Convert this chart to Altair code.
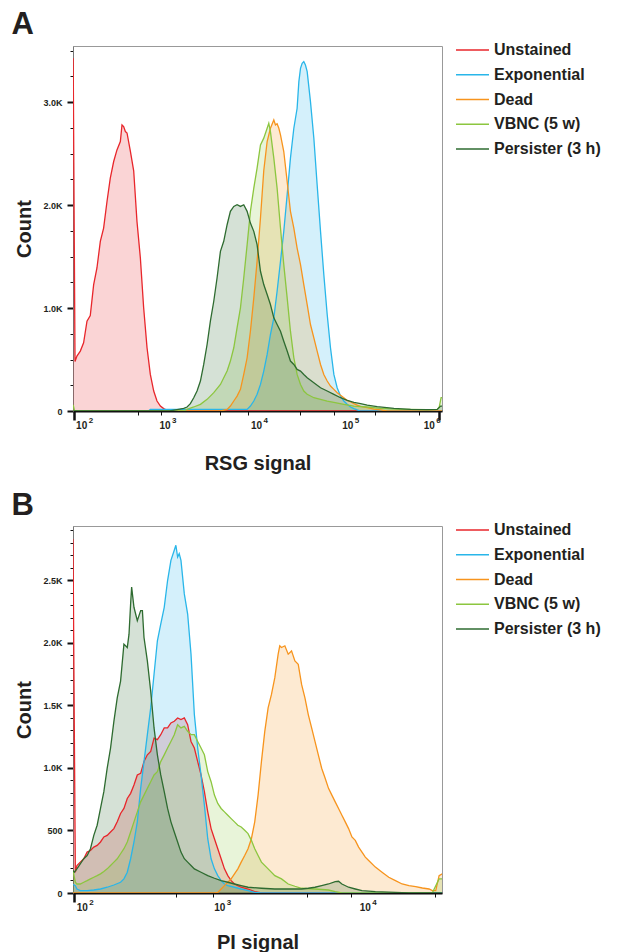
import math
import altair as alt
import pandas as pd

SERIES = ["Unstained", "Exponential", "Dead", "VBNC (5 w)", "Persister (3 h)"]
COLORS_A = ["#e8262b", "#29b6e9", "#f7941d", "#8cc63f", "#2e6b30"]
COLORS_B = ["#ec3a3f", "#29b6e9", "#f7941d", "#8cc63f", "#3c7440"]
FONT = "Liberation Sans"
INK = "#231f20"

# decade tick labels (10^n) of each panel's x axis
DECADES_A = [2, 3, 4, 5, 6]
DECADES_B = [2, 3, 4]

# ---------------- Panel A: log10(RSG signal) / Count ----------------
A_UNSTAINED_LX = [1.995, 2.015, 2.036, 2.073, 2.109, 2.146, 2.182, 2.219, 2.255, 2.292, 2.328, 2.365, 2.401, 2.438, 2.474, 2.511, 2.529, 2.547, 2.566, 2.584, 2.620, 2.657, 2.693, 2.730, 2.766, 2.803, 2.839, 2.876, 2.912, 2.949, 2.985, 3.022, 3.058, 6.03]
A_UNSTAINED_N = [3425, 480, 533, 582, 662, 872, 927, 1228, 1389, 1648, 1777, 2035, 2262, 2423, 2536, 2617, 2779, 2762, 2714, 2700, 2527, 2333, 1841, 1486, 1002, 614, 355, 194, 97, 48, 23, 6, 0, 0]

A_EXPO_LX = [1.995, 2.82, 2.839, 3.5, 3.898, 3.934, 3.971, 4.007, 4.044, 4.080, 4.117, 4.153, 4.190, 4.226, 4.263, 4.299, 4.336, 4.372, 4.409, 4.445, 4.464, 4.482, 4.500, 4.518, 4.536, 4.555, 4.591, 4.628, 4.664, 4.701, 4.737, 4.774, 4.810, 4.847, 4.883, 4.920, 4.956, 4.993, 5.029, 5.066, 5.102, 5.139, 6.03]
A_EXPO_N = [0, 0, 16, 16, 16, 48, 97, 162, 258, 388, 549, 743, 905, 1163, 1454, 1745, 2100, 2456, 2746, 2940, 3199, 3328, 3376, 3393, 3360, 3296, 3005, 2649, 2197, 1745, 1325, 937, 614, 355, 226, 145, 97, 65, 39, 23, 10, 0, 0]

A_DEAD_LX = [1.995, 3.606, 3.679, 3.715, 3.752, 3.788, 3.825, 3.861, 3.898, 3.934, 3.971, 4.007, 4.044, 4.080, 4.117, 4.153, 4.190, 4.208, 4.226, 4.245, 4.263, 4.299, 4.336, 4.372, 4.409, 4.445, 4.482, 4.518, 4.555, 4.591, 4.628, 4.664, 4.701, 4.737, 4.774, 4.810, 4.847, 4.883, 4.920, 4.956, 4.993, 5.029, 5.066, 5.102, 5.139, 5.212, 5.285, 5.358, 5.431, 6.03]
A_DEAD_N = [0, 0, 16, 48, 97, 145, 210, 355, 517, 775, 1099, 1454, 1874, 2333, 2617, 2746, 2827, 2779, 2790, 2746, 2682, 2520, 2229, 1939, 1777, 1583, 1422, 1228, 1034, 840, 711, 582, 452, 355, 291, 242, 210, 178, 152, 129, 103, 90, 71, 58, 45, 32, 19, 10, 0, 0]

A_VBNC_LX = [1.995, 2.01, 3.2, 3.241, 3.314, 3.387, 3.460, 3.533, 3.606, 3.679, 3.715, 3.752, 3.788, 3.825, 3.861, 3.898, 3.934, 3.971, 4.007, 4.044, 4.080, 4.117, 4.135, 4.153, 4.190, 4.226, 4.263, 4.299, 4.336, 4.372, 4.409, 4.445, 4.482, 4.518, 4.555, 4.628, 4.701, 4.774, 4.847, 4.956, 5.066, 5.212, 5.358, 5.504, 5.686, 5.869, 5.978, 6.0, 6.02, 6.03]
A_VBNC_N = [60, 0, 0, 16, 39, 65, 113, 178, 258, 388, 485, 614, 808, 1002, 1292, 1615, 1939, 2165, 2359, 2585, 2650, 2746, 2795, 2714, 2456, 2165, 1777, 1422, 1099, 775, 517, 355, 258, 194, 162, 129, 113, 97, 84, 65, 48, 39, 26, 19, 16, 13, 16, 40, 129, 129]

A_PERS_LX = [1.995, 3.05, 3.131, 3.204, 3.241, 3.277, 3.314, 3.350, 3.387, 3.423, 3.460, 3.496, 3.533, 3.569, 3.606, 3.642, 3.679, 3.715, 3.752, 3.788, 3.825, 3.861, 3.898, 3.934, 3.971, 4.007, 4.044, 4.080, 4.117, 4.153, 4.190, 4.226, 4.263, 4.299, 4.336, 4.372, 4.409, 4.445, 4.482, 4.518, 4.555, 4.628, 4.701, 4.774, 4.847, 4.920, 4.993, 5.066, 5.139, 5.212, 5.321, 5.504, 5.686, 5.869, 5.978, 6.015, 6.03]
A_PERS_N = [0, 0, 13, 26, 39, 71, 129, 194, 291, 452, 646, 872, 1066, 1292, 1551, 1648, 1809, 1939, 1987, 2003, 1987, 2003, 1939, 1825, 1745, 1615, 1357, 1228, 1131, 1034, 905, 840, 775, 678, 582, 485, 452, 404, 388, 355, 323, 275, 226, 194, 162, 129, 103, 84, 71, 58, 42, 26, 16, 13, 16, 48, 48]

# ---------------- Panel B: log10(PI signal) / Count ----------------
B_UNSTAINED_LX = [1.991, 2.007, 2.018, 2.041, 2.065, 2.088, 2.111, 2.134, 2.157, 2.180, 2.203, 2.226, 2.249, 2.272, 2.295, 2.318, 2.341, 2.364, 2.387, 2.410, 2.433, 2.456, 2.479, 2.502, 2.525, 2.548, 2.571, 2.594, 2.618, 2.641, 2.664, 2.687, 2.710, 2.733, 2.756, 2.779, 2.802, 2.825, 2.848, 2.871, 2.894, 2.917, 2.940, 2.963, 2.986, 3.009, 3.032, 3.055, 3.078, 3.101, 3.124, 3.147, 3.194, 3.240, 3.286, 4.53]
B_UNSTAINED_N = [2830, 166, 220, 247, 274, 327, 340, 367, 381, 408, 448, 461, 488, 515, 569, 636, 676, 756, 797, 864, 944, 957, 1051, 1105, 1132, 1239, 1226, 1266, 1320, 1320, 1360, 1373, 1400, 1387, 1400, 1346, 1212, 1159, 1051, 944, 810, 649, 515, 434, 354, 274, 193, 139, 99, 72, 59, 46, 32, 11, 0, 0]

B_EXPO_LX = [1.991, 2.007, 2.018, 2.041, 2.088, 2.134, 2.180, 2.226, 2.272, 2.318, 2.341, 2.364, 2.387, 2.410, 2.433, 2.456, 2.479, 2.502, 2.525, 2.548, 2.571, 2.594, 2.618, 2.641, 2.664, 2.687, 2.698, 2.710, 2.721, 2.733, 2.756, 2.779, 2.802, 2.825, 2.848, 2.871, 2.894, 2.917, 2.940, 2.963, 2.986, 3.009, 3.032, 3.055, 3.101, 3.147, 3.194, 3.240, 3.286, 4.53]
B_EXPO_N = [70, 59, 32, 19, 19, 24, 32, 46, 64, 86, 113, 166, 274, 408, 569, 837, 1051, 1266, 1480, 1749, 2017, 2151, 2285, 2499, 2660, 2741, 2781, 2687, 2714, 2660, 2392, 2231, 1910, 1427, 1159, 944, 703, 434, 274, 193, 139, 99, 72, 59, 46, 32, 19, 5, 0, 0]

B_DEAD_LX = [1.991, 2.96, 2.986, 3.009, 3.032, 3.055, 3.078, 3.101, 3.124, 3.147, 3.171, 3.194, 3.217, 3.240, 3.263, 3.286, 3.309, 3.332, 3.355, 3.378, 3.401, 3.412, 3.424, 3.447, 3.470, 3.493, 3.516, 3.539, 3.562, 3.585, 3.608, 3.631, 3.654, 3.677, 3.700, 3.724, 3.747, 3.770, 3.793, 3.816, 3.839, 3.862, 3.885, 3.908, 3.931, 3.954, 3.977, 4.000, 4.023, 4.069, 4.115, 4.161, 4.207, 4.253, 4.300, 4.346, 4.392, 4.438, 4.461, 4.484, 4.507, 4.53]
B_DEAD_N = [0, 0, 5, 32, 59, 86, 113, 153, 193, 247, 300, 354, 434, 569, 783, 1051, 1293, 1480, 1588, 1722, 1910, 1977, 1963, 1977, 1910, 1936, 1856, 1829, 1668, 1561, 1427, 1320, 1212, 1105, 998, 917, 837, 783, 729, 676, 622, 569, 515, 448, 421, 367, 327, 287, 260, 207, 166, 126, 99, 72, 59, 51, 40, 32, 19, 19, 139, 153]

B_VBNC_LX = [1.991, 2.007, 2.018, 2.041, 2.065, 2.088, 2.111, 2.134, 2.157, 2.180, 2.203, 2.226, 2.249, 2.272, 2.295, 2.318, 2.341, 2.364, 2.387, 2.410, 2.433, 2.456, 2.479, 2.502, 2.525, 2.548, 2.571, 2.594, 2.618, 2.641, 2.664, 2.687, 2.710, 2.733, 2.756, 2.779, 2.802, 2.825, 2.848, 2.871, 2.894, 2.917, 2.940, 2.963, 2.986, 3.009, 3.032, 3.055, 3.078, 3.101, 3.124, 3.147, 3.171, 3.194, 3.217, 3.240, 3.263, 3.286, 3.332, 3.378, 3.424, 3.470, 3.516, 3.562, 3.654, 3.747, 3.793, 3.839, 4.46, 4.507, 4.53]
B_VBNC_N = [180, 86, 72, 72, 86, 99, 113, 126, 139, 153, 172, 193, 220, 247, 274, 314, 354, 408, 488, 569, 649, 729, 783, 837, 890, 944, 971, 1051, 1105, 1159, 1212, 1266, 1346, 1320, 1333, 1293, 1266, 1266, 1212, 1159, 1105, 971, 890, 783, 716, 676, 649, 622, 595, 569, 542, 528, 502, 475, 421, 354, 300, 247, 193, 139, 113, 72, 54, 38, 32, 24, 11, 0, 0, 113, 113]

B_PERS_LX = [1.991, 2.000, 2.018, 2.041, 2.065, 2.088, 2.111, 2.134, 2.157, 2.180, 2.203, 2.226, 2.249, 2.272, 2.295, 2.318, 2.341, 2.364, 2.376, 2.387, 2.394, 2.410, 2.433, 2.456, 2.468, 2.479, 2.502, 2.525, 2.548, 2.571, 2.594, 2.618, 2.641, 2.664, 2.687, 2.710, 2.733, 2.756, 2.779, 2.802, 2.825, 2.871, 2.917, 2.963, 3.009, 3.055, 3.101, 3.147, 3.194, 3.286, 3.378, 3.470, 3.562, 3.608, 3.654, 3.700, 3.747, 3.793, 3.816, 3.839, 3.885, 3.931, 3.977, 4.069, 4.207, 4.30, 4.53]
B_PERS_N = [180, 166, 193, 233, 274, 300, 354, 461, 542, 676, 810, 998, 1159, 1373, 1561, 1695, 1990, 1963, 2070, 2312, 2446, 2285, 2178, 2258, 2258, 2043, 1856, 1615, 1320, 1105, 944, 810, 676, 569, 488, 408, 327, 274, 247, 220, 193, 166, 139, 118, 99, 86, 72, 59, 46, 38, 32, 32, 32, 38, 46, 59, 72, 91, 94, 72, 46, 32, 19, 11, 5, 0, 0]


def build_frame(pairs):
    rows = []
    for name, (lx, n) in zip(SERIES, pairs):
        for a, b in zip(lx, n):
            rows.append({"series": name, "lx": a, "count": b})
    return pd.DataFrame(rows)


df_a = build_frame([(A_UNSTAINED_LX, A_UNSTAINED_N), (A_EXPO_LX, A_EXPO_N),
                    (A_DEAD_LX, A_DEAD_N), (A_VBNC_LX, A_VBNC_N), (A_PERS_LX, A_PERS_N)])
df_b = build_frame([(B_UNSTAINED_LX, B_UNSTAINED_N), (B_EXPO_LX, B_EXPO_N),
                    (B_DEAD_LX, B_DEAD_N), (B_VBNC_LX, B_VBNC_N), (B_PERS_LX, B_PERS_N)])

MAJOR_X = "abs(datum.value - round(datum.value)) < 0.001"
# edge labels are nudged inwards, as in the original axis
LABEL_SHIFT = {"expr": "datum.lx <= 2 ? 8 : (datum.lx >= 6 ? -10 : 0)"}


def x_ticks(lo, hi):
    vals = []
    for n in range(1, 7):
        for k in range(1, 10):
            v = math.log10(k * 10 ** n)
            if lo - 1e-9 <= v <= hi + 1e-9:
                vals.append(round(v, 5))
    return vals


def panel(df, decades, colors, xdom, ydom, height, ystep, ymajor, ylabel, xtitle, xtitle_pad):
    ymajor_test = f"datum.value % {ymajor} == 0"
    xaxis = alt.Axis(
        values=x_ticks(2, xdom[1]), labels=False,
        tickSize={"condition": {"test": MAJOR_X, "value": 9}, "value": 4},
        tickWidth={"condition": {"test": MAJOR_X, "value": 2.5}, "value": 1},
        tickColor="#111", domainColor="#111", domainWidth=2, grid=False,
        title=xtitle, titleFont=FONT, titleFontSize=20, titleFontWeight="bold", titleColor=INK,
        titlePadding=xtitle_pad,
    )
    yaxis = alt.Axis(
        values=list(range(0, ydom[1] + 1, ystep)), labelExpr=ylabel, labelOverlap=False,
        tickSize={"condition": {"test": ymajor_test, "value": 6}, "value": 3},
        tickWidth={"condition": {"test": ymajor_test, "value": 2}, "value": 1},
        tickColor="#111", domainColor="#777", domainWidth=1, grid=False,
        labelFont=FONT, labelFontSize=9, labelFontWeight="bold", labelColor=INK, labelPadding=5,
        title="Count", titleFont=FONT, titleFontSize=20, titleFontWeight="bold", titleColor=INK,
        titlePadding=8,
    )
    areas = alt.Chart(df).mark_area(
        line={"strokeWidth": 1.3}, fillOpacity=0.2, clip=True, interpolate="linear"
    ).encode(
        x=alt.X("lx:Q", scale=alt.Scale(domain=xdom, nice=False, zero=False), axis=xaxis),
        y=alt.Y("count:Q", scale=alt.Scale(domain=list(ydom), nice=False), stack=None, axis=yaxis),
        color=alt.Color("series:N", scale=alt.Scale(domain=SERIES, range=colors), legend=None),
    )
    ddf = pd.DataFrame({"lx": decades, "exp": [str(d) for d in decades]})
    base_txt = alt.Chart(ddf).mark_text(
        text="10", font=FONT, fontSize=10, fontWeight="bold", color=INK, align="center",
        baseline="top", dx=LABEL_SHIFT
    ).encode(x="lx:Q", y=alt.value(height + 10))
    exp_txt = alt.Chart(ddf).mark_text(
        font=FONT, fontSize=8, fontWeight="bold", color=INK, align="left", baseline="top",
        dx={"expr": "(datum.lx <= 2 ? 8 : (datum.lx >= 6 ? -10 : 0)) + 7"}
    ).encode(x="lx:Q", y=alt.value(height + 6), text="exp:N")
    return alt.layer(areas, base_txt, exp_txt).properties(width=369, height=height)


def legend(colors, height):
    ldf = pd.DataFrame({"series": SERIES})
    y = alt.Y("series:N", sort=SERIES,
              scale=alt.Scale(type="point", domain=SERIES, range=[4, 103], padding=0), axis=None)
    col = alt.Color("series:N", scale=alt.Scale(domain=SERIES, range=colors), legend=None)
    rules = alt.Chart(ldf).mark_rule(strokeWidth=1.4).encode(
        x=alt.value(0), x2=alt.value(33), y=y, color=col)
    texts = alt.Chart(ldf).mark_text(
        align="left", baseline="middle", font=FONT, fontSize=16, fontWeight="bold", color=INK
    ).encode(x=alt.value(38), y=y, text="series:N")
    return alt.layer(rules, texts).properties(width=150, height=height, view=alt.ViewBackground(stroke=None))


label_a = "datum.value % 1000 == 0 ? (datum.value == 0 ? '0' : format(datum.value / 1000, '.1f') + 'K') : ''"
label_b = ("datum.value % 500 == 0 ? (datum.value < 1000 ? '' + datum.value : "
           "format(datum.value / 1000, '.1f') + 'K') : ''")

plot_a = panel(df_a, DECADES_A, COLORS_A, [1.993, 6.03], (0, 3545), 365, 250, 1000, label_a, "RSG signal", 32)
plot_b = panel(df_b, DECADES_B, COLORS_B, [1.991, 4.527], (0, 2935), 367, 100, 500, label_b, "PI signal", 29)

title_style = dict(anchor="start", frame="bounds", fontSize=31, fontWeight="bold", font=FONT, color=INK)
row_a = alt.hconcat(plot_a, legend(COLORS_A, 365), spacing=12,
                    title=alt.TitleParams(text="A", offset=1, dx=-3, **title_style))
row_b = alt.hconcat(plot_b, legend(COLORS_B, 367), spacing=12,
                    title=alt.TitleParams(text="B", offset=0, dx=-3, **title_style))

chart = alt.vconcat(row_a, row_b, spacing=16).properties(
    padding={"left": 3, "top": 1, "right": 0, "bottom": 0}
).configure_view(stroke="#999999", strokeWidth=1)

chart.save("out.html", embed_options={"renderer": "svg", "actions": False})
